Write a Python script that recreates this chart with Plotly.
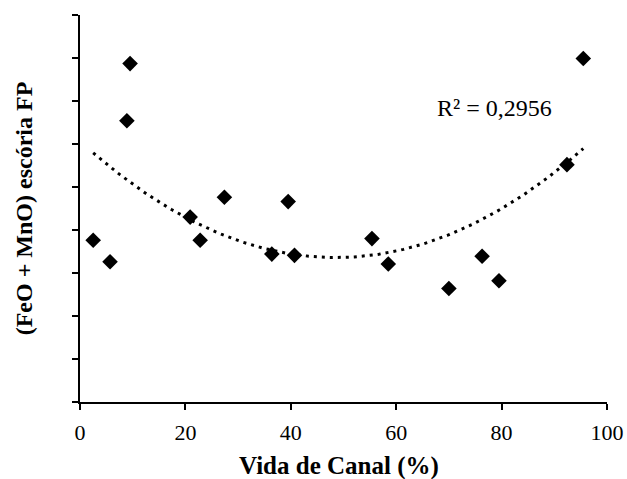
import numpy as np
import plotly.graph_objects as go

vida_canal = [2.5, 5.7, 8.9, 9.5, 20.9, 22.8, 27.4, 36.4, 39.5, 40.7,
              55.4, 58.5, 70.0, 76.3, 79.5, 92.4, 95.5]
feo_mno = [3.76, 3.26, 6.54, 7.87, 4.30, 3.76, 4.76, 3.44, 4.66, 3.41,
           3.80, 3.21, 2.64, 3.39, 2.82, 5.52, 7.99]
x_ticks = [0, 20, 40, 60, 80, 100]

# polynomial trendline (order 2), as in the spreadsheet
coef = np.polyfit(vida_canal, feo_mno, 2)
xt = np.linspace(min(vida_canal), max(vida_canal), 200)
yt = np.polyval(coef, xt)

fig = go.Figure()
fig.add_trace(go.Scatter(x=xt, y=yt, mode='lines',
                         line=dict(color='black', width=3, dash='3px,5px'),
                         hoverinfo='skip'))
fig.add_trace(go.Scatter(x=vida_canal, y=feo_mno, mode='markers',
                         marker=dict(symbol='diamond', size=12, color='black')))

fig.add_annotation(x=78.7, y=6.84, text='R² = 0,2956', showarrow=False,
                   font=dict(family='Liberation Serif', size=24, color='black'))
# x axis title
fig.add_annotation(x=0.5, y=0, xref='paper', yref='paper', yanchor='middle',
                   xshift=-5, yshift=-64, text='<b>Vida de Canal (%)</b>', showarrow=False,
                   font=dict(family='Liberation Serif', size=25, color='black'))

fig.update_layout(
    width=627, height=479,
    margin=dict(l=80, r=20, t=15, b=77),
    paper_bgcolor='white', plot_bgcolor='white',
    showlegend=False,
    font=dict(family='Liberation Serif', color='black'),
)
fig.update_xaxes(range=[0, 100], tickvals=x_ticks, showgrid=False, zeroline=False,
                 automargin=False,
                 showline=True, linecolor='black', linewidth=1.5,
                 ticks='outside', ticklen=6, tickwidth=1.5, tickcolor='black',
                 tickfont=dict(size=22), ticklabeloverflow='allow', ticklabelstandoff=4)
fig.update_yaxes(range=[0, 9], dtick=1, showticklabels=False, showgrid=False, zeroline=False,
                 automargin=False,
                 showline=True, linecolor='black', linewidth=1.5,
                 ticks='outside', ticklen=6, tickwidth=1.5, tickcolor='black',
                 title=dict(text='<b>(FeO + MnO) escória FP</b>', font=dict(size=24), standoff=33))

fig.write_html("out.html", config={'displayModeBar': False},
               post_script="document.body.style.margin='0';")
